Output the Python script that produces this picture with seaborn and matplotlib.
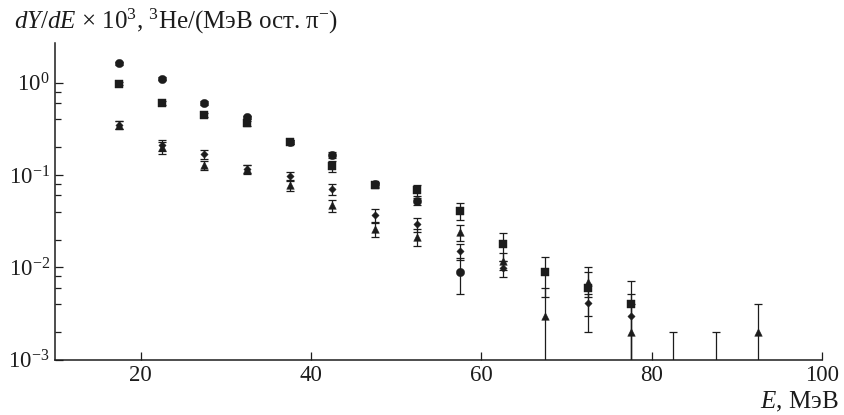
import numpy as np
import pandas as pd
import matplotlib
matplotlib.use("Agg")
import matplotlib.pyplot as plt
import seaborn as sns
from matplotlib.ticker import FixedLocator, NullFormatter, LogFormatterSciNotation

# ---------------- data ----------------
energy = [17.5, 22.5, 27.5, 32.5, 37.5, 42.5, 47.5, 52.5, 57.5, 62.5,
          67.5, 72.5, 77.5, 82.5, 87.5, 92.5]
nan = np.nan
circle_y = [1.62, 1.10, 0.61, 0.42, 0.228, 0.166, 0.079, 0.052, 0.0089, nan,
            nan, nan, nan, nan, nan, nan]
circle_err = [0.05, 0.04, 0.03, 0.02, 0.01, 0.012, 0.005, 0.005, 0.0038, nan,
              nan, nan, nan, nan, nan, nan]
square_y = [0.98, 0.61, 0.447, 0.363, 0.228, 0.125, 0.077, 0.068, 0.0408, 0.0178,
            0.0089, 0.0060, 0.0040, nan, nan, nan]
square_err = [0.04, 0.03, 0.02, 0.02, 0.01, 0.016, 0.005, 0.009, 0.0085, 0.006,
              0.0041, 0.004, 0.0031, nan, nan, nan]
diamond_y = [0.35, 0.21, 0.168, 0.117, 0.098, 0.070, 0.0366, 0.0292, 0.0151, 0.0098,
             nan, 0.0041, 0.0030, nan, nan, nan]
diamond_err = [0.035, 0.03, 0.02, 0.012, 0.01, 0.01, 0.006, 0.005, 0.003, 0.002,
               nan, 0.0011, 0.0021, nan, nan, nan]
triangle_y = [0.35, 0.20, 0.127, 0.115, 0.077, 0.047, 0.0258, 0.0215, 0.024, 0.0118,
              0.0030, 0.0069, 0.0020, nan, nan, 0.0020]
triangle_err = [0.035, 0.03, 0.015, 0.012, 0.01, 0.007, 0.0045, 0.0045, 0.0046, 0.0025,
                0.003, 0.0021, 0.002, nan, nan, 0.002]
limit_energy = [82.5, 87.5]
limit_y = [0.002, 0.002]

x_ticks = [20, 40, 60, 80, 100]
y_major = [1e-3, 1e-2, 1e-1, 1e0]

# ---------------- style ----------------
sns.set_theme(style="ticks")
plt.rcParams.update({
    "font.family": ["Liberation Serif", "DejaVu Serif"],
    "mathtext.fontset": "custom",
    "mathtext.rm": "Liberation Serif",
    "mathtext.it": "Liberation Serif:italic",
    "mathtext.bf": "Liberation Serif:bold",
    "axes.unicode_minus": True,
})

ink = "#1c1c1c"
fig = plt.figure(figsize=(8.44, 4.15), dpi=100)
ax = fig.add_axes([0.0655, 0.1335, 0.9088, 0.7635])

series = [
    ("circle", circle_y, circle_err, "o", 36),
    ("square", square_y, square_err, "s", 30),
    ("diamond", diamond_y, diamond_err, "D", 14),
    ("triangle", triangle_y, triangle_err, "^", 30),
]

frames = []
for name, yv, ev, mk, sz in series:
    df = pd.DataFrame({"E": energy, "y": yv, "err": ev})
    df = df.dropna()
    frames.append((name, df, mk, sz))

for name, df, mk, sz in frames:
    ax.errorbar(df["E"], df["y"], yerr=df["err"], fmt="none", ecolor=ink,
                elinewidth=0.9, capsize=3.0, capthick=0.9, zorder=2)

# upper-limit bars (no marker)
ax.errorbar(limit_energy, limit_y, yerr=[limit_y, [0, 0]], fmt="none", ecolor=ink,
            elinewidth=0.9, capsize=3.0, capthick=0.9, zorder=2)

for name, df, mk, sz in frames:
    sns.scatterplot(data=df, x="E", y="y", marker=mk, s=sz, color=ink,
                    edgecolor=ink, linewidth=0.3, ax=ax, zorder=3, legend=False)

ax.set_yscale("log")
ax.set_xlim(10, 100)
ax.set_ylim(1e-3, 2.71)

ax.xaxis.set_major_locator(FixedLocator(x_ticks))
ax.xaxis.set_minor_locator(FixedLocator([]))
ax.yaxis.set_major_locator(FixedLocator(y_major))
minor = [m * 10.0 ** k for k in (-3, -2, -1) for m in (2, 4, 6, 8)]
ax.yaxis.set_minor_locator(FixedLocator(minor))
ax.yaxis.set_major_formatter(LogFormatterSciNotation())
ax.yaxis.set_minor_formatter(NullFormatter())

ax.tick_params(axis="both", which="major", direction="in", length=6, width=0.9,
               color=ink, labelsize=16.5, labelcolor=ink)
ax.tick_params(axis="y", which="minor", direction="in", length=4, width=0.9, color=ink)
ax.tick_params(axis="x", pad=4)
ax.tick_params(axis="y", pad=4)

for s in ("top", "right"):
    ax.spines[s].set_visible(False)
for s in ("left", "bottom"):
    ax.spines[s].set_linewidth(1.1)
    ax.spines[s].set_color(ink)

ax.set_xlabel("")
ax.set_ylabel("")

fig.text(0.017, 0.932, r"$dY/dE$ × 10$^{3}$, $^{3}$He/(МэВ ост. π$^{-}$)",
         fontsize=18, color=ink, ha="left", va="baseline")
fig.text(0.994, 0.016, r"$E$, МэВ", fontsize=18, color=ink, ha="right", va="baseline")

fig.savefig("out.png", dpi=100)
